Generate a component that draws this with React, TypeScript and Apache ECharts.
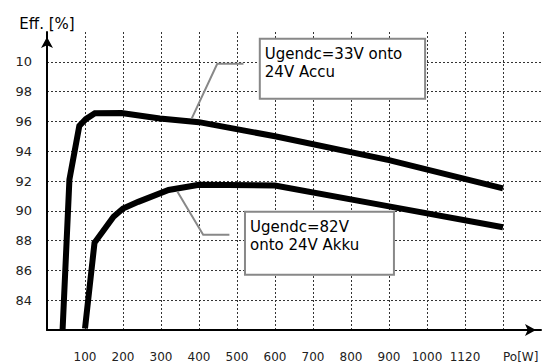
import React, { useEffect, useRef } from "react";
import * as echarts from "echarts";

// ---- data ----
const xTickValues = [100, 200, 300, 400, 500, 600, 700, 800, 900, 1000, 1100];
const xTickLabels = ["100", "200", "300", "400", "500", "600", "700", "800", "900", "1000", "1120"];
const yTickValues = [84, 86, 88, 90, 92, 94, 96, 98, 100];
const yTickLabels = ["84", "86", "88", "90", "92", "94", "96", "98", "10"];

const powerAccu33 = [41, 59, 85, 102, 126, 196, 297, 400, 600, 900, 1200];
const effAccu33 = [82, 92.1, 95.7, 96.15, 96.55, 96.56, 96.2, 95.95, 95.0, 93.4, 91.5];

const powerAkku82 = [100, 125, 175, 200, 240, 320, 400, 600, 900, 1200];
const effAkku82 = [82.1, 87.85, 89.6, 90.15, 90.6, 91.4, 91.75, 91.7, 90.3, 88.9];

const note1Text = "Ugendc=33V onto\n24V Accu";
const note1Box = [560, 101.54, 995, 97.52];
const note1Leader = [[381, 96.2], [448, 99.87], [517, 99.87]];

const note2Text = "Ugendc=82V\nonto 24V Akku";
const note2Box = [521, 89.93, 913, 85.7];
const note2Leader = [[343, 91.3], [411, 88.39], [480, 88.39]];

const xAxisName = "Po[W]";
const yAxisName = "Eff. [%]";

const FONT = "DejaVu Sans";

export default function App() {
  const ref = useRef<HTMLDivElement>(null);

  useEffect(() => {
    if (!ref.current) return;
    const chart = echarts.init(ref.current, null, { renderer: "svg" });

    const axisLine = () => ({
      show: true,
      onZero: false,
      symbol: ["none", "arrow"],
      symbolSize: [9, 11],
      symbolOffset: [0, -5],
      lineStyle: { color: "#000", width: 2 },
    });
    const gridLine = () => ({
      show: true,
      showMinLine: false,
      showMaxLine: false,
      lineStyle: { color: "#333", width: 1, type: [2, 2] },
    });

    chart.setOption({
      animation: false,
      grid: { left: 47, right: 13, top: 32, bottom: 33, containLabel: false, show: false },
      xAxis: {
        type: "value",
        min: 0,
        max: 1300,
        interval: 100,
        axisLine: axisLine(),
        axisTick: { show: false },
        axisLabel: {
          margin: 21,
          fontSize: 12,
          color: "#222",
          fontFamily: FONT,
          showMinLabel: false,
          showMaxLabel: false,
          formatter: (v: number) => {
            const i = xTickValues.indexOf(v);
            return i >= 0 ? xTickLabels[i] : "";
          },
        },
        splitLine: gridLine(),
      },
      yAxis: {
        type: "value",
        min: 82,
        max: 102,
        interval: 2,
        name: yAxisName,
        nameLocation: "end",
        nameGap: 1,
        nameTextStyle: { fontSize: 15, color: "#000", fontFamily: FONT, align: "center" },
        axisLine: axisLine(),
        axisTick: { show: false },
        axisLabel: {
          margin: 15,
          fontSize: 13,
          color: "#222",
          fontFamily: FONT,
          showMinLabel: false,
          showMaxLabel: false,
          formatter: (v: number) => {
            const i = yTickValues.indexOf(v);
            return i >= 0 ? yTickLabels[i] : "";
          },
        },
        splitLine: gridLine(),
      },
      series: [
        {
          type: "line",
          data: powerAccu33.map((p, i) => [p, effAccu33[i]]),
          showSymbol: false,
          symbol: "none",
          lineStyle: { color: "#000", width: 6, cap: "butt", join: "miter" },
          z: 3,
        },
        {
          type: "line",
          data: powerAkku82.map((p, i) => [p, effAkku82[i]]),
          showSymbol: false,
          symbol: "none",
          lineStyle: { color: "#000", width: 6, cap: "butt", join: "miter" },
          z: 3,
        },
      ],
    });

    const px = (pt: number[]) => chart.convertToPixel({ gridIndex: 0 }, pt) as number[];

    const makeNote = (text: string, box: number[], leader: number[][]) => {
      const a = px([box[0], box[1]]);
      const b = px([box[2], box[3]]);
      return [
        {
          type: "polyline",
          z: 10,
          shape: { points: leader.map(px) },
          style: { stroke: "#888", lineWidth: 2, fill: null },
        },
        {
          type: "rect",
          z: 10,
          shape: { x: a[0], y: a[1], width: b[0] - a[0], height: b[1] - a[1] },
          style: { fill: "#fff", stroke: "#888", lineWidth: 2 },
        },
        {
          type: "text",
          z: 11,
          x: a[0] + 5,
          y: a[1] + 6,
          style: {
            text,
            font: `15px '${FONT}'`,
            fill: "#000",
            lineHeight: 18,
            verticalAlign: "top",
            align: "left",
          },
        },
      ];
    };

    const end = px([1200, 82]);
    chart.setOption({
      graphic: [
        ...makeNote(note1Text, note1Box, note1Leader),
        ...makeNote(note2Text, note2Box, note2Leader),
        {
          type: "text",
          z: 11,
          x: end[0],
          y: end[1] + 21,
          style: {
            text: xAxisName,
            font: `12px '${FONT}'`,
            fill: "#222",
            align: "left",
            verticalAlign: "top",
          },
        },
      ],
    });

    return () => chart.dispose();
  }, []);

  return <div ref={ref} style={{ width: 554, height: 363, position: "absolute", left: 0, top: 0 }} />;
}
